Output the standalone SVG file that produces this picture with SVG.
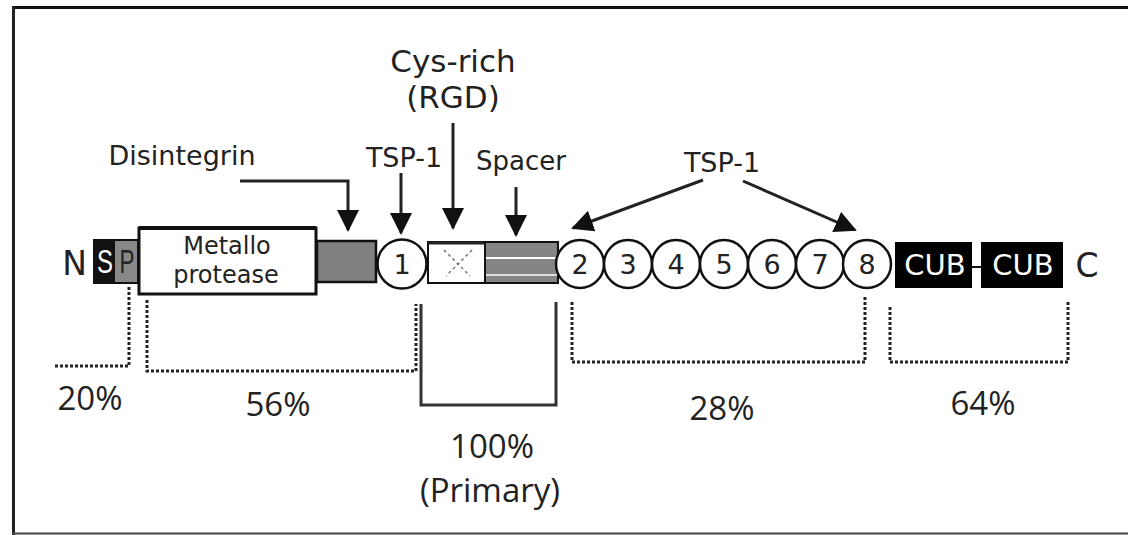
<svg xmlns="http://www.w3.org/2000/svg" width="1128" height="535" viewBox="0 0 1128 535">
<style>
.lbl{font-family:"DejaVu Sans",Verdana,sans-serif;fill:#222;text-anchor:middle}
.pct{font-family:"Open Sans","Liberation Sans",sans-serif;fill:#222;text-anchor:middle;font-size:33px}
.num{font-family:"DejaVu Sans",sans-serif;fill:#222;text-anchor:middle;font-size:27px}
.wt{font-family:"DejaVu Sans",sans-serif;fill:#fff;text-anchor:middle;font-size:29px}
.circ{fill:#fff;stroke:#111;stroke-width:2.5}
.arr{stroke:#222;stroke-width:3;fill:none;marker-end:url(#ah)}
.dot{stroke:#222;stroke-width:3;fill:none;stroke-dasharray:3 2}
.sol{stroke:#333;stroke-width:3;fill:none}
</style>
<defs>
<marker id="ah" markerUnits="userSpaceOnUse" markerWidth="22" markerHeight="22" refX="20" refY="11" orient="auto" viewBox="0 0 22 22">
<path d="M0,0 L22,11 L0,22 z" fill="#111"/>
</marker>
</defs>
<rect width="1128" height="535" fill="#fff"/>
<g id="frame">
<line x1="12" y1="7.5" x2="1128" y2="7.5" stroke="#111" stroke-width="3"/>
<line x1="13.5" y1="6" x2="13.5" y2="535" stroke="#222" stroke-width="3"/>
<line x1="12" y1="533.5" x2="1128" y2="533.5" stroke="#444" stroke-width="2"/>
</g>
<g id="connectors">
<polyline class="arr" points="240,181 348,181 348,230"/>
<line class="arr" x1="401" y1="173" x2="401" y2="233"/>
<line class="arr" x1="453" y1="123" x2="453" y2="228"/>
<line class="arr" x1="516" y1="187" x2="516" y2="235"/>
<line class="arr" x1="703" y1="180" x2="573" y2="228"/>
<line class="arr" x1="743" y1="181" x2="855" y2="230"/>
<polyline class="dot" points="129,287 129,366 54,366"/>
<polyline class="dot" points="147,300 147,371 416,371 416,304"/>
<polyline class="sol" points="421,304 421,405 556,405 556,302"/>
<polyline class="dot" points="572,302 572,362 865,362 865,296"/>
<polyline class="dot" points="890,307 890,362 1068,362 1068,301"/>
<line x1="972" y1="267" x2="981" y2="267" stroke="#111" stroke-width="2"/>
</g>
<g id="N"><text class="lbl" x="74.5" y="275" font-size="33">N</text></g>
<g id="SP">
<rect x="94" y="240" width="44" height="43" fill="#888" stroke="#111" stroke-width="2"/>
<rect x="94" y="240" width="21" height="43" fill="#111"/>
<text x="105" y="273" font-family="Liberation Sans,Arial,sans-serif" font-size="34" fill="#fff" text-anchor="middle" textLength="16" lengthAdjust="spacingAndGlyphs">S</text>
<text x="127" y="273" font-family="Liberation Sans,Arial,sans-serif" font-size="34" fill="#222" text-anchor="middle" textLength="15" lengthAdjust="spacingAndGlyphs">P</text>
</g>
<g id="metalloprotease">
<rect x="139" y="228" width="177" height="66" fill="#fff" stroke="#111" stroke-width="3"/>
<line x1="139" y1="228" x2="316" y2="228" stroke="#111" stroke-width="4"/>
<text class="lbl" x="227" y="254" font-size="24">Metallo</text>
<text class="lbl" x="226" y="283" font-size="24">protease</text>
</g>
<g id="disintegrin">
<rect x="317" y="241" width="59" height="41" fill="#808080" stroke="#111" stroke-width="2.5"/>
<text class="lbl" x="182" y="165" font-size="27">Disintegrin</text>
</g>
<g id="tsp1-first">
<circle class="circ" cx="402" cy="264" r="24.5"/>
<text class="num" x="402" y="274" font-size="29">1</text>
<text class="lbl" x="404" y="167" font-size="27">TSP-1</text>
</g>
<g id="cysrich">
<rect x="428" y="242" width="57" height="41" fill="#fff" stroke="#111" stroke-width="2"/>
<line x1="428" y1="243" x2="485" y2="243" stroke="#222" stroke-width="3"/>
<g stroke="#777" stroke-width="1.5" stroke-dasharray="3 3">
<line x1="444" y1="250" x2="470" y2="276"/>
<line x1="472" y1="250" x2="446" y2="276"/>
</g>
<text class="lbl" x="453" y="72" font-size="31">Cys-rich</text>
<text class="lbl" x="453" y="108" font-size="31">(RGD)</text>
</g>
<g id="spacer">
<rect x="485" y="242" width="73" height="41" fill="#858585" stroke="#111" stroke-width="2"/>
<line x1="486" y1="258" x2="557" y2="258" stroke="#fff" stroke-width="2"/>
<line x1="486" y1="275" x2="557" y2="275" stroke="#ddd" stroke-width="2"/>
<text class="lbl" x="521" y="170" font-size="26">Spacer</text>
</g>
<g id="tsp1-repeats">
<circle class="circ" cx="580" cy="264" r="24"/>
<circle class="circ" cx="628" cy="264" r="24"/>
<circle class="circ" cx="676" cy="264" r="24"/>
<circle class="circ" cx="724" cy="264" r="24"/>
<circle class="circ" cx="772" cy="264" r="24"/>
<circle class="circ" cx="820" cy="264" r="24"/>
<circle class="circ" cx="867" cy="264" r="24"/>
<text class="num" x="580" y="274">2</text>
<text class="num" x="628" y="274">3</text>
<text class="num" x="676" y="274">4</text>
<text class="num" x="724" y="274">5</text>
<text class="num" x="772" y="274">6</text>
<text class="num" x="820" y="274">7</text>
<text class="num" x="867" y="274">8</text>
<text class="lbl" x="722" y="172" font-size="27">TSP-1</text>
</g>
<g id="cub1">
<rect x="895" y="242" width="77" height="46" fill="#000"/>
<text class="wt" x="935" y="275">CUB</text>
</g>
<g id="cub2">
<rect x="981" y="242" width="82" height="46" fill="#000"/>
<text class="wt" x="1023" y="275">CUB</text>
</g>
<g id="C"><text class="lbl" x="1087" y="277" font-size="33">C</text></g>
<g id="percentages">
<text class="pct" x="90" y="410">20%</text>
<text class="pct" x="278" y="416">56%</text>
<text class="pct" x="492" y="458">100%</text>
<text class="pct" x="490" y="502">(Primary)</text>
<text class="pct" x="722" y="420">28%</text>
<text class="pct" x="983" y="415">64%</text>
</g>
</svg>
